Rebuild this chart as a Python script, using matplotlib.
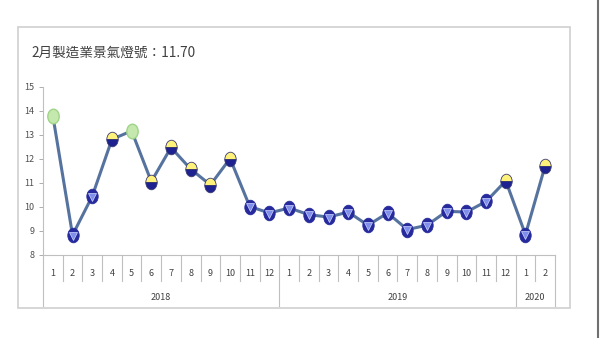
import numpy as np
import matplotlib
matplotlib.use("Agg")
import matplotlib.pyplot as plt
from matplotlib.markers import MarkerStyle
from matplotlib.transforms import Affine2D
from matplotlib.patches import Rectangle
from matplotlib.lines import Line2D

plt.rcParams["font.family"] = ["Noto Sans CJK TC", "DejaVu Sans"]

# 資料
TITLE = "2月製造業景氣燈號：11.70"
MONTHS = [1, 2, 3, 4, 5, 6, 7, 8, 9, 10, 11, 12,
          1, 2, 3, 4, 5, 6, 7, 8, 9, 10, 11, 12,
          1, 2]
YEARS = ["2018", "2019", "2020"]
YEAR_COUNTS = [12, 12, 2]
SCORES = [13.80, 8.83, 10.45, 12.82, 13.17, 11.06, 12.48, 11.58, 10.92, 12.02, 10.02, 9.75,
          9.96, 9.68, 9.58, 9.79, 9.24, 9.75, 9.06, 9.24, 9.82, 9.79, 10.23, 11.09,
          8.85, 11.72]
# 燈號: G=綠燈, YB=黃藍燈, B=藍燈
SIGNALS = ["G", "B", "B", "YB", "G", "YB", "YB", "YB", "YB", "YB", "B", "B",
           "B", "B", "B", "B", "B", "B", "B", "B", "B", "B", "B", "YB",
           "B", "YB"]

W, H = 600, 338
fig = plt.figure(figsize=(W / 100, H / 100), dpi=100)

# 外框
fig.patches.append(Rectangle((18 / W, 1 - 308 / H), 552 / W, 281 / H,
                             transform=fig.transFigure, fill=False,
                             edgecolor="#CFCFCF", linewidth=1.2))
fig.lines.append(Line2D([598 / W, 598 / W], [0, 1], transform=fig.transFigure,
                        color="#707070", linewidth=1.5))

fig.text(31 / W, 1 - 53 / H, TITLE, fontsize=9.8, color="#404040",
         va="center", ha="left")

left, right, top, bottom = 43, 555, 87, 255
ax = fig.add_axes([left / W, 1 - bottom / H, (right - left) / W, (bottom - top) / H])

x = np.arange(len(SCORES))
ax.plot(x, SCORES, color="#56739F", linewidth=2.2, zorder=2)

oval = Affine2D().scale(0.78, 1.0)
msize = 10.5
for xi, yi, sig in zip(x, SCORES, SIGNALS):
    if sig == "G":
        ax.plot(xi, yi, marker=MarkerStyle("o", transform=oval), markersize=msize,
                markerfacecolor="#C5E8AE", markeredgecolor="#9FD487",
                markeredgewidth=1.0, zorder=3)
    elif sig == "YB":
        ax.plot(xi, yi, marker=MarkerStyle("o", fillstyle="top", transform=oval),
                markersize=msize, markerfacecolor="#FFF27A",
                markerfacecoloralt="#1E2290", markeredgecolor="#3A3A70",
                markeredgewidth=0.6, zorder=3)
    else:
        ax.plot(xi, yi, marker=MarkerStyle("o", transform=oval), markersize=msize,
                markerfacecolor="#262A9C", markeredgecolor="#262A9C",
                markeredgewidth=0.6, zorder=3)
        ax.plot(xi, yi - 0.03, marker="v", markersize=5.5, markerfacecolor="#7F8FEA",
                markeredgecolor="#D0D6FF", markeredgewidth=0.5, zorder=4)

ax.set_xlim(-0.5, len(SCORES) - 0.5)
ax.set_ylim(8, 15)
ax.set_yticks(range(8, 16))
ax.set_xticks([])
ax.tick_params(axis="y", labelsize=6.5, colors="#505050", length=3,
               width=0.6, pad=3)
ax.tick_params(axis="y", color="#A0A0A0")
for s in ["top", "right"]:
    ax.spines[s].set_visible(False)
ax.spines["left"].set_color("#BFBFBF")
ax.spines["bottom"].set_color("#BFBFBF")

# 下方分類表
ph = bottom - top
trans = ax.get_xaxis_transform()
month_sep = -(281 - bottom) / ph
year_sep = -(306 - bottom) / ph
ax.plot([-0.5, -0.5], [0, year_sep], transform=trans, color="#BFBFBF",
        linewidth=0.8, clip_on=False)
year_edges = np.cumsum(YEAR_COUNTS) - 0.5
for i in range(1, len(MONTHS) + 1):
    xs = i - 0.5
    y_end = year_sep if xs in year_edges else month_sep
    ax.plot([xs, xs], [0, y_end], transform=trans, color="#BFBFBF",
            linewidth=0.8, clip_on=False)
for i, m in enumerate(MONTHS):
    ax.text(i, -(273 - bottom) / ph, str(m), transform=trans, ha="center",
            va="center", fontsize=6.5, color="#404040")
start = 0
for yr, n in zip(YEARS, YEAR_COUNTS):
    ax.text(start + (n - 1) / 2, -(298 - bottom) / ph, yr, transform=trans,
            ha="center", va="center", fontsize=6.5, color="#404040")
    start += n

fig.savefig("out.png", dpi=100)
